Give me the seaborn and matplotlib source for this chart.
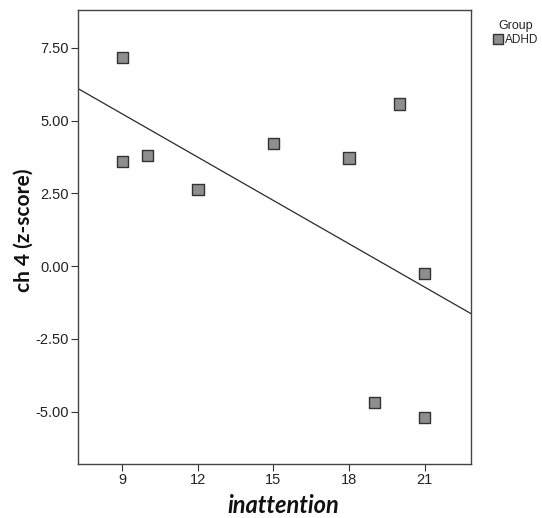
import matplotlib
matplotlib.use("Agg")
import matplotlib.pyplot as plt
import seaborn as sns
import pandas as pd
from matplotlib.ticker import FormatStrFormatter

inattention = [9, 9, 10, 12, 15, 18, 20, 21, 19, 21]
ch4_z = [7.17, 3.60, 3.80, 2.63, 4.21, 3.72, 5.57, -0.25, -4.69, -5.21]
group = ["ADHD"] * len(inattention)
x_ticks = [9, 12, 15, 18, 21]
y_ticks = [-5.0, -2.5, 0.0, 2.5, 5.0, 7.5]

df = pd.DataFrame({"inattention": inattention, "ch4": ch4_z, "Group": group})

sns.set_style("white")
plt.rcParams["font.family"] = ["Liberation Sans", "DejaVu Sans"]

fig = plt.figure(figsize=(5.42, 5.18), dpi=100)
ax = fig.add_axes([78/542, 54/518, (471-78)/542, (464-10)/518])
ax.set_xlim(7.24, 22.84)
ax.set_ylim(-6.80, 8.80)

sns.regplot(data=df, x="inattention", y="ch4", scatter=False, ci=None,
            truncate=False, ax=ax, line_kws=dict(color="#2a2a2a", lw=0.9))
sns.scatterplot(data=df, x="inattention", y="ch4", hue="Group",
                palette={"ADHD": "#8e8e8e"}, marker="s", s=68,
                edgecolor="#333333", linewidth=1.0, ax=ax, zorder=3)

ax.set_xticks(x_ticks)
ax.set_yticks(y_ticks)
ax.yaxis.set_major_formatter(FormatStrFormatter("%.2f"))
ax.tick_params(axis="both", which="major", direction="out", length=5, width=0.8,
               color="#333333", labelsize=10.5, labelcolor="#222222", pad=1.5,
               bottom=True, left=True)
for s in ax.spines.values():
    s.set_color("#444444")
    s.set_linewidth(1.0)

ax.set_xlabel("inattention", fontsize=17, fontweight="bold", fontstyle="italic",
              family=["Lato", "DejaVu Sans"], color="#111111")
ax.set_ylabel("ch 4 (z-score)", fontsize=15, fontweight="bold",
              family=["Lato", "DejaVu Sans"], color="#111111")
ax.xaxis.set_label_coords(0.523, -0.066)
ax.yaxis.set_label_coords(-0.112, 0.515)

leg = ax.legend(title="Group", loc="upper left",
                bbox_to_anchor=(493/542, 1 - 20/518), bbox_transform=fig.transFigure,
                frameon=False, fontsize=8.5, title_fontsize=9,
                handletextpad=0.25, borderaxespad=0.0, borderpad=0.0,
                markerscale=0.8, handlelength=0.8, labelspacing=0.2)

fig.savefig("out.png", dpi=100)
